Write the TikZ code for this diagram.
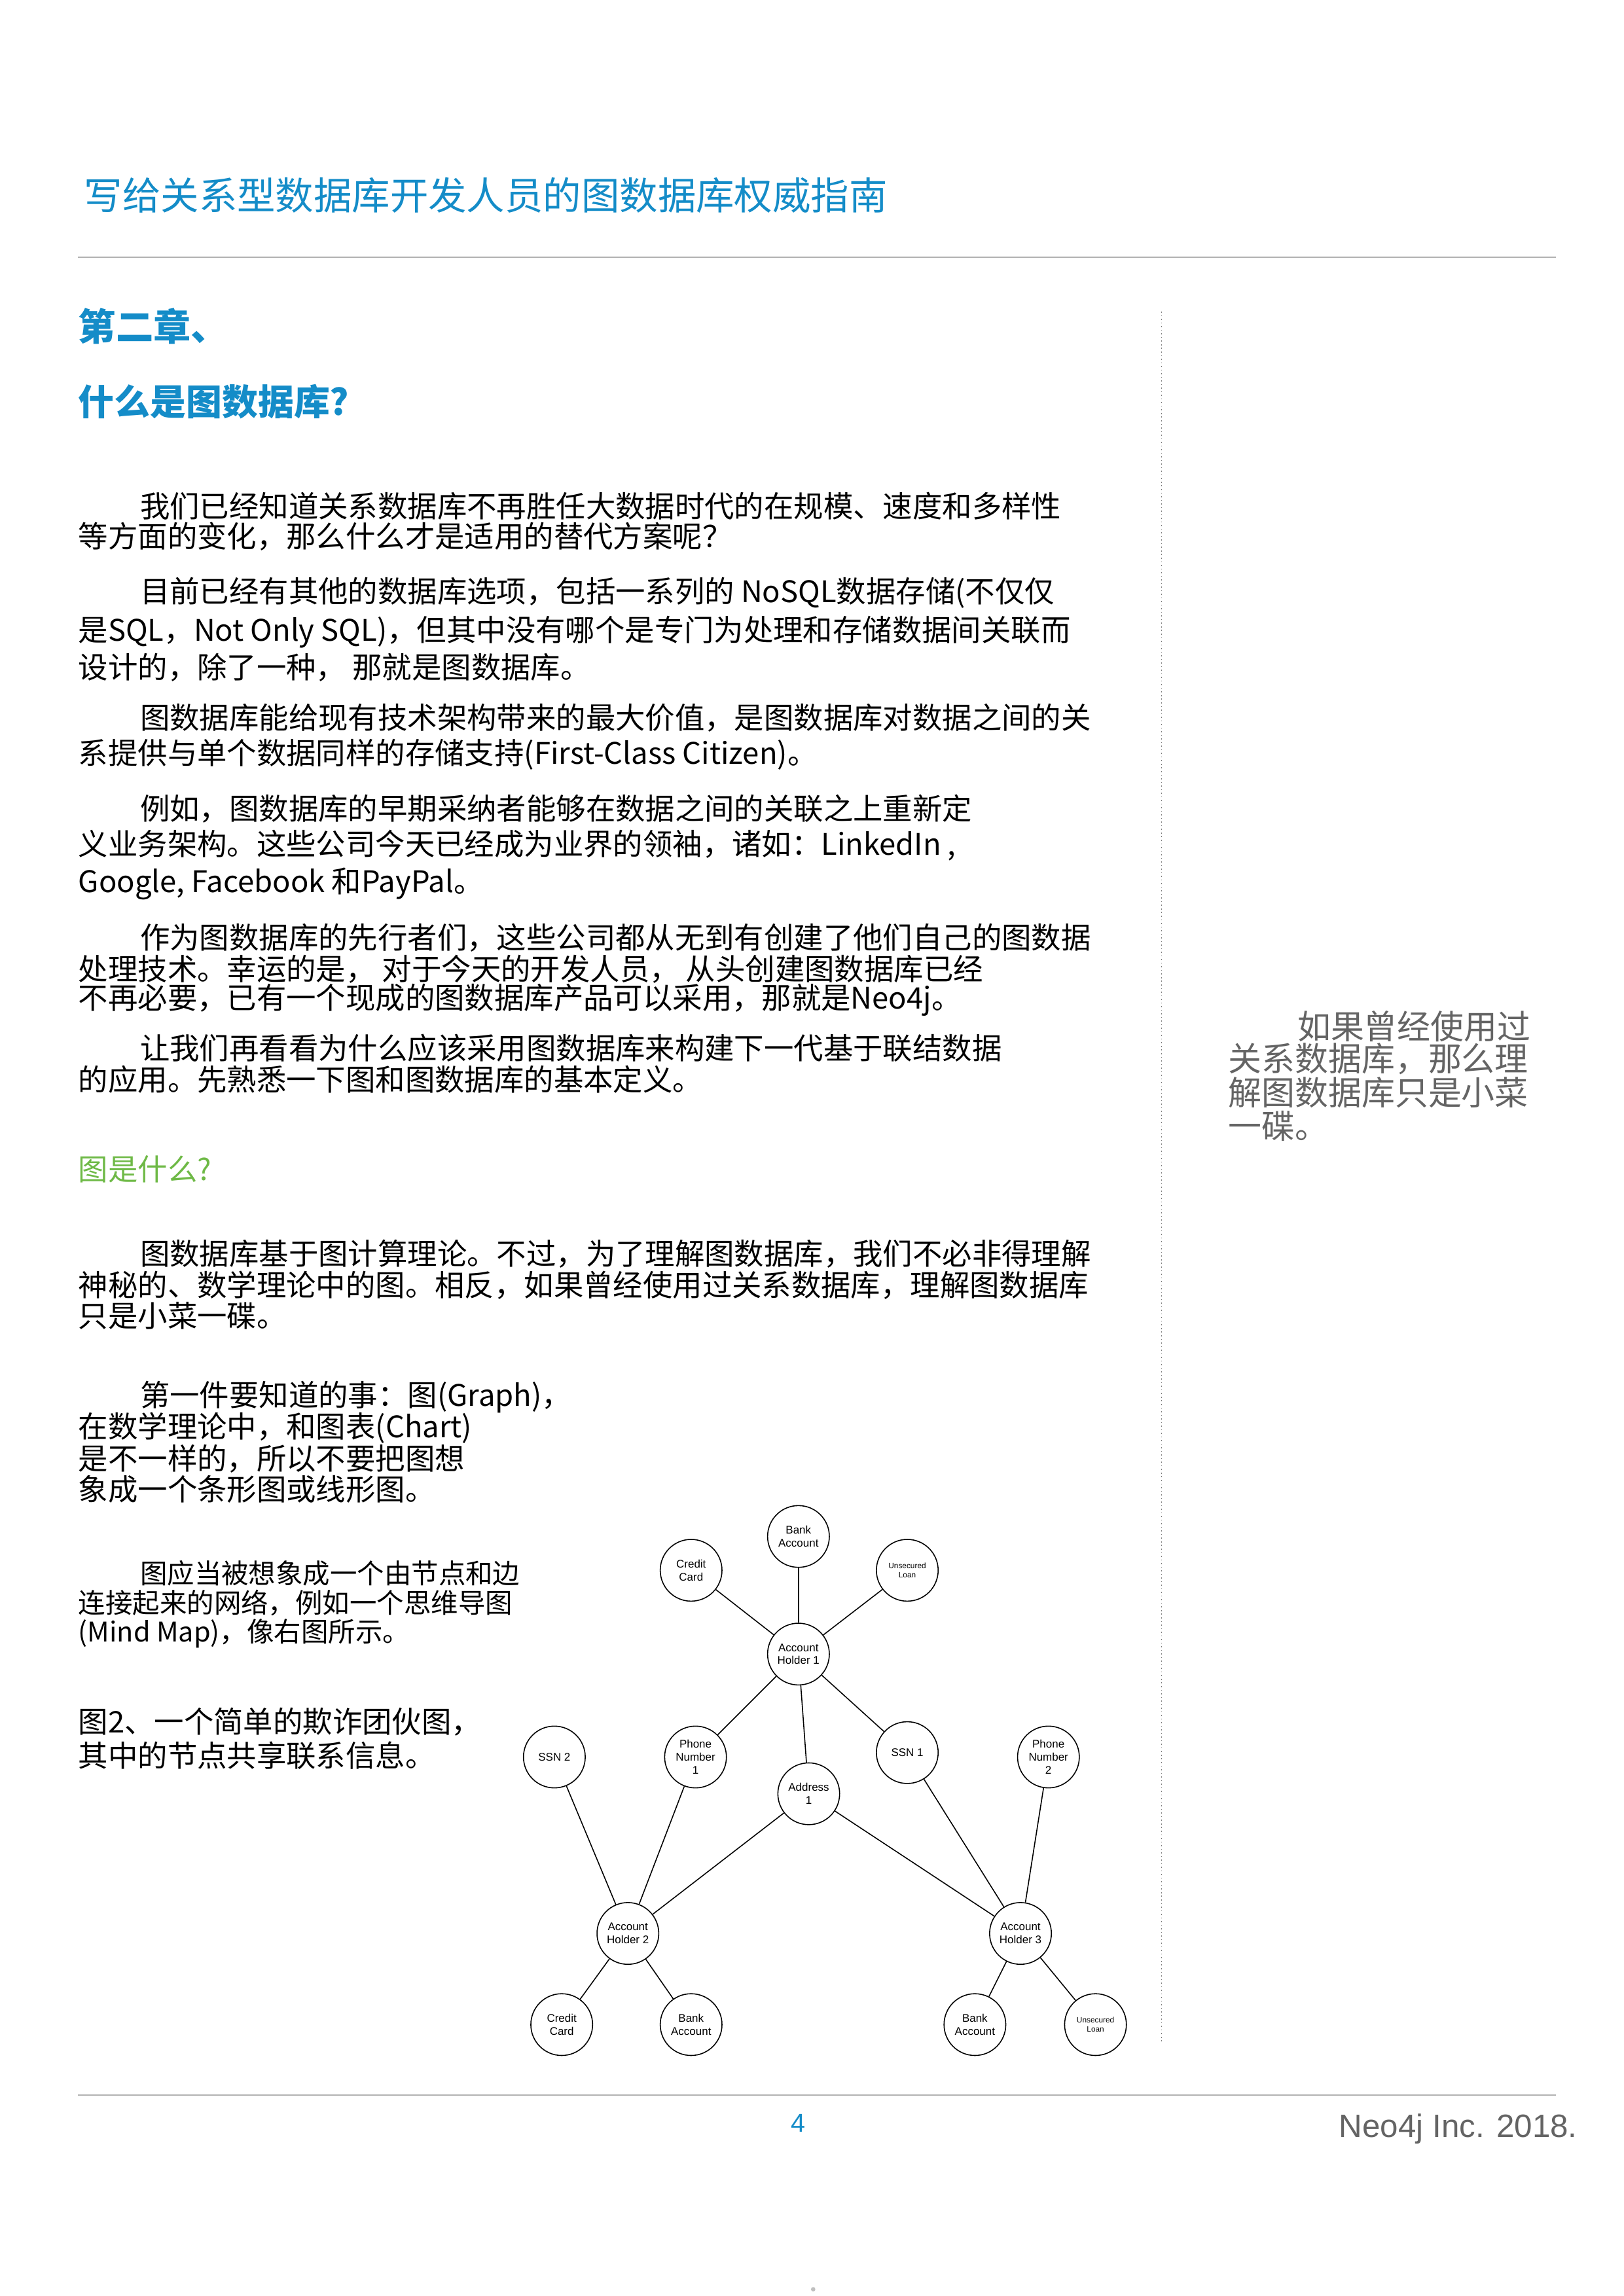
\documentclass[tikz,border=0pt]{standalone}
\usepackage{fontspec}
\setmainfont{Liberation Sans}
\newfontfamily\cjk{Noto Sans CJK SC}
\definecolor{titrebleu}{RGB}{20,140,200}
\definecolor{vert}{RGB}{110,185,70}
\definecolor{gristexte}{RGB}{100,100,100}
\tikzset{
  ligne/.style={anchor=west,inner sep=0pt,font=\cjk\fontsize{11.5}{12}\selectfont},
  noeud/.style={draw,thin,circle,minimum size=42*0.02cm,inner sep=0pt,align=center,
    font=\fontsize{4.3}{5}\selectfont},
  arete/.style={thin}
}
\begin{document}
\begin{tikzpicture}[x=0.02cm,y=-0.02cm]
\useasboundingbox (0,0) rectangle (1104,1561.6);
% En-tete
\node[anchor=west,inner sep=0pt,text=titrebleu,font=\cjk\fontsize{14.8}{16}\selectfont] (titre) at (57,133) {写给关系型数据库开发人员的图数据库权威指南};
\draw[gray!60] (53,175) -- (1058,175);
\node[anchor=west,inner sep=0pt,text=titrebleu,font=\cjk\bfseries\fontsize{14.5}{16}\selectfont] (chap) at (53,222) {第二章、};
\node[anchor=west,inner sep=0pt,text=titrebleu,font=\cjk\bfseries\fontsize{13.9}{16}\selectfont] (quoi) at (53,273) {什么是图数据库?};
\draw[gray,densely dotted] (790,212) -- (790,1390);
% Texte principal
\node[ligne] (p1a) at (95,344) {我们已经知道关系数据库不再胜任大数据时代的在规模、速度和多样性};
\node[ligne] (p1b) at (53,365) {等方面的变化，那么什么才是适用的替代方案呢？};
\node[ligne] (p2a) at (95,403) {目前已经有其他的数据库选项，包括一系列的 NoSQL数据存储(不仅仅};
\node[ligne] (p2b) at (53,430) {是SQL，Not Only SQL)，但其中没有哪个是专门为处理和存储数据间关联而};
\node[ligne] (p2c) at (53,454) {设计的，除了一种， 那就是图数据库。};
\node[ligne] (p3a) at (95,488) {图数据库能给现有技术架构带来的最大价值，是图数据库对数据之间的关};
\node[ligne] (p3b) at (53,513) {系提供与单个数据同样的存储支持(First-Class Citizen)。};
\node[ligne] (p4a) at (95,550) {例如，图数据库的早期采纳者能够在数据之间的关联之上重新定};
\node[ligne] (p4b) at (53,575) {义业务架构。这些公司今天已经成为业界的领袖，诸如：LinkedIn ,};
\node[ligne] (p4c) at (53,601) {Google, Facebook 和PayPal。};
\node[ligne] (p5a) at (95,638) {作为图数据库的先行者们，这些公司都从无到有创建了他们自己的图数据};
\node[ligne] (p5b) at (53,659) {处理技术。幸运的是， 对于今天的开发人员， 从头创建图数据库已经};
\node[ligne] (p5c) at (53,680) {不再必要，已有一个现成的图数据库产品可以采用，那就是Neo4j。};
\node[ligne] (p6a) at (95,713) {让我们再看看为什么应该采用图数据库来构建下一代基于联结数据};
\node[ligne] (p6b) at (53,734) {的应用。先熟悉一下图和图数据库的基本定义。};
\node[ligne,text=vert] (graphe) at (53,795) {图是什么?};
\node[ligne] (p7a) at (95,853) {图数据库基于图计算理论。不过，为了理解图数据库，我们不必非得理解};
\node[ligne] (p7b) at (53,874) {神秘的、数学理论中的图。相反，如果曾经使用过关系数据库，理解图数据库};
\node[ligne] (p7c) at (53,895) {只是小菜一碟。};
\node[ligne] (p8a) at (95,950) {第一件要知道的事：图(Graph)，};
\node[ligne] (p8b) at (53,971) {在数学理论中，和图表(Chart)};
\node[ligne] (p8c) at (53,992) {是不一样的，所以不要把图想};
\node[ligne] (p8d) at (53,1013) {象成一个条形图或线形图。};
\node[ligne,font=\cjk\fontsize{10.5}{12}\selectfont] (p9a) at (95,1070) {图应当被想象成一个由节点和边};
\node[ligne,font=\cjk\fontsize{10.5}{12}\selectfont] (p9b) at (53,1090) {连接起来的网络，例如一个思维导图};
\node[ligne,font=\cjk\fontsize{10.5}{12}\selectfont] (p9c) at (53,1111) {(Mind Map)，像右图所示。};
\node[ligne] (leg1) at (53,1171) {图2、一个简单的欺诈团伙图，};
\node[ligne] (leg2) at (53,1194) {其中的节点共享联系信息。};
% Note laterale
\node[ligne,text=gristexte,font=\cjk\fontsize{12.9}{14}\selectfont] (n1) at (882,698) {如果曾经使用过};
\node[ligne,text=gristexte,font=\cjk\fontsize{12.9}{14}\selectfont] (n2) at (835,720) {关系数据库，那么理};
\node[ligne,text=gristexte,font=\cjk\fontsize{12.9}{14}\selectfont] (n3) at (835,743) {解图数据库只是小菜};
\node[ligne,text=gristexte,font=\cjk\fontsize{12.9}{14}\selectfont] (n4) at (835,766) {一碟。};
% Graphe
\node[noeud] (banque) at (543,1045) {Bank\\Account};
\node[noeud] (carte) at (470,1068) {Credit\\Card};
\node[noeud,font=\fontsize{3}{3.5}\selectfont] (pret) at (617,1068) {Unsecured\\Loan};
\node[noeud] (titulaire1) at (543,1125) {Account\\Holder 1};
\node[noeud] (ssn2) at (377,1195) {SSN 2};
\node[noeud] (tel1) at (473,1195) {Phone\\Number\\1};
\node[noeud] (adresse) at (550,1220) {Address\\1};
\node[noeud] (ssn1) at (617,1192) {SSN 1};
\node[noeud] (tel2) at (713,1195) {Phone\\Number\\2};
\node[noeud] (titulaire2) at (427,1315) {Account\\Holder 2};
\node[noeud] (titulaire3) at (694,1315) {Account\\Holder 3};
\node[noeud] (carte2) at (382,1377) {Credit\\Card};
\node[noeud] (banque2) at (470,1377) {Bank\\Account};
\node[noeud] (banque3) at (663,1377) {Bank\\Account};
\node[noeud,font=\fontsize{3}{3.5}\selectfont] (pret3) at (745,1377) {Unsecured\\Loan};
\foreach \a/\b in {titulaire1/banque,titulaire1/carte,titulaire1/pret,titulaire1/tel1,
  titulaire1/adresse,titulaire1/ssn1,titulaire2/ssn2,titulaire2/tel1,titulaire2/adresse,
  titulaire3/adresse,titulaire3/ssn1,titulaire3/tel2,titulaire2/carte2,titulaire2/banque2,
  titulaire3/banque3,titulaire3/pret3}
  \draw[arete] (\a) -- (\b);
% Pied de page
\draw[gray!60] (53,1425) -- (1058,1425);
\node[inner sep=0pt,text=titrebleu,font=\fontsize{10}{12}\selectfont] (page) at (543,1444) {4};
\node[anchor=east,inner sep=0pt,text=gristexte,font=\fontsize{12.5}{14}\selectfont] (neo) at (1073,1448) {Neo4j Inc. 2018.};
\fill[gray!50] (553,1557) circle (1.5);
\end{tikzpicture}
\end{document}
